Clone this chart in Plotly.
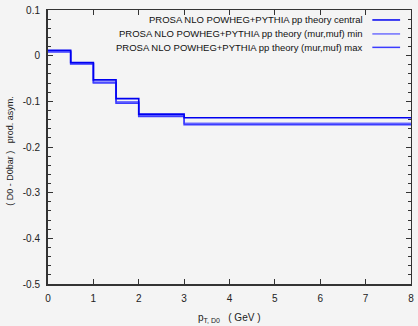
import plotly.graph_objects as go

# bin edges in pT (GeV)
pt_edges = [0, 0.5, 1, 1.5, 2, 3, 8]
central = [0.012, -0.015, -0.053, -0.094, -0.128, -0.136]
mur_min = [0.010, -0.017, -0.058, -0.101, -0.131, -0.148]
mur_max = [0.008, -0.018, -0.060, -0.104, -0.133, -0.151]

series_names = [
    "PROSA NLO POWHEG+PYTHIA pp theory central",
    "PROSA NLO POWHEG+PYTHIA pp theory (mur,muf) min",
    "PROSA NLO POWHEG+PYTHIA pp theory (mur,muf) max",
]
series_colors = ["#0000f0", "#7070ff", "#3c3cff"]

x_tickvals = [0, 1, 2, 3, 4, 5, 6, 7, 8]
x_ticktext = ["0", "1", "2", "3", "4", "5", "6", "7", "8"]
y_tickvals = [0.1, 0, -0.1, -0.2, -0.3, -0.4, -0.5]
y_ticktext = ["0.1", "0", "-0.1", "-0.2", "-0.3", "-0.4", "-0.5"]

FONT = "Liberation Sans, Arial, sans-serif"
AX = "#333333"

fig = go.Figure()
order = [(series_names[1], mur_min, series_colors[1]),
         (series_names[2], mur_max, series_colors[2]),
         (series_names[0], central, series_colors[0])]
for name, vals, col in order:
    fig.add_trace(go.Scatter(
        x=pt_edges, y=list(vals) + [vals[-1]], mode="lines",
        line=dict(shape="hv", color=col, width=1.6),
        name=name, showlegend=False, hoverinfo="skip"))

# dummy trace to show top/right mirror axes
fig.add_trace(go.Scatter(x=[None], y=[None], xaxis="x2", yaxis="y2",
                         showlegend=False, hoverinfo="skip"))

L, R, T, B = 48, 4, 9, 42
W, H = 418, 326
pw, ph = W - L - R, H - T - B

def px_to_paper_x(px):
    return (px - L) / pw

def px_to_paper_y(py):
    return 1 - (py - T) / ph

fig.update_layout(
    width=W, height=H,
    margin=dict(l=L, r=R, t=T, b=B),
    paper_bgcolor="#f4f4f4", plot_bgcolor="#f4f4f4",
    font=dict(family=FONT, size=10, color="#222222"),
    showlegend=False,
    xaxis=dict(range=[0, 8], tickvals=x_tickvals, ticktext=x_ticktext,
               showgrid=False, zeroline=False, showline=True, linewidth=2,
               linecolor=AX, ticks="inside", ticklen=5, tickwidth=1,
               tickcolor=AX, tickfont=dict(size=10, color="#222222"),
               ticklabelstandoff=4),
    yaxis=dict(range=[-0.5, 0.1], tickvals=y_tickvals, ticktext=y_ticktext,
               showgrid=False, zeroline=False, showline=True, linewidth=2,
               linecolor=AX, ticks="inside", ticklen=5, tickwidth=1,
               tickcolor=AX, tickfont=dict(size=10, color="#222222"),
               ticklabelstandoff=4,
               minor=dict(dtick=0.02, tick0=0, ticks="inside", ticklen=3,
                          tickcolor=AX, tickwidth=1)),
    xaxis2=dict(range=[0, 8], overlaying="x", side="top", tickvals=x_tickvals,
                showticklabels=False, showgrid=False, zeroline=False,
                showline=True, linewidth=1, linecolor=AX, ticks="inside",
                ticklen=5, tickcolor=AX),
    yaxis2=dict(range=[-0.5, 0.1], overlaying="y", side="right",
                tickvals=y_tickvals, showticklabels=False, showgrid=False,
                zeroline=False, showline=True, linewidth=1, linecolor=AX,
                ticks="inside", ticklen=5, tickcolor=AX,
                minor=dict(dtick=0.02, tick0=0, ticks="inside", ticklen=3,
                           tickcolor=AX, tickwidth=1)),
)

# legend (text right-aligned, sample line to the right)
leg_rows = [19, 33, 46.5]
for i, (name, col) in enumerate(zip(series_names, series_colors)):
    yp = px_to_paper_y(leg_rows[i])
    fig.add_annotation(x=px_to_paper_x(368), y=yp, xref="paper", yref="paper",
                       text=name, showarrow=False, xanchor="right",
                       yanchor="middle", font=dict(size=9.5, color="#111111"))
    fig.add_shape(type="line", xref="paper", yref="paper",
                  x0=px_to_paper_x(375), x1=px_to_paper_x(403), y0=yp, y1=yp,
                  line=dict(color=col, width=1.5))

# axis titles
fig.add_annotation(x=px_to_paper_x(230), y=px_to_paper_y(318), xref="paper",
                   yref="paper", showarrow=False, xanchor="center",
                   yanchor="middle",
                   text="p<sub>T, D0</sub>   ( GeV )",
                   font=dict(size=10, color="#222222"))
fig.add_annotation(x=px_to_paper_x(10), y=px_to_paper_y(150), xref="paper",
                   yref="paper", showarrow=False, xanchor="center",
                   yanchor="middle", textangle=-90,
                   text="( D0 - D0bar )   prod. asym.",
                   font=dict(size=9, color="#222222"))

fig.write_html("out.html")
